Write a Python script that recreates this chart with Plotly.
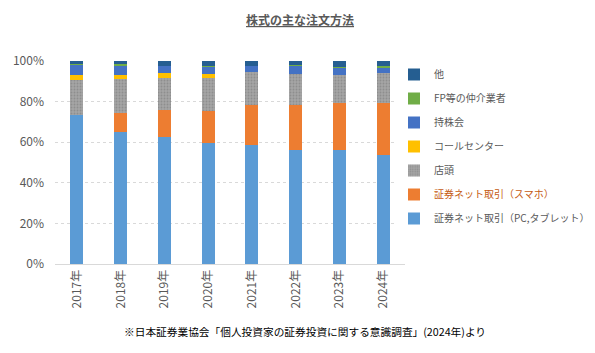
import plotly.graph_objects as go

years = ["2017年", "2018年", "2019年", "2020年", "2021年", "2022年", "2023年", "2024年"]

net_pc = [73.5, 65.2, 62.5, 59.6, 58.5, 56.2, 56.2, 53.6]
net_sp = [0.0, 9.3, 13.4, 15.9, 19.6, 22.2, 23.2, 25.8]
tento = [17.2, 16.7, 15.8, 16.2, 16.6, 15.3, 13.8, 14.8]
call_center = [2.5, 2.0, 2.5, 2.0, 0.0, 0.0, 0.0, 0.0]
mochikabu = [5.0, 4.6, 3.5, 3.5, 3.0, 4.1, 3.5, 2.5]
fp = [0.5, 0.5, 0.0, 0.5, 0.0, 0.4, 0.5, 1.0]
other = [1.3, 1.7, 2.3, 2.3, 2.3, 1.8, 2.8, 2.3]

y_ticks = [0, 20, 40, 60, 80, 100]
y_tick_labels = ["0%", "20%", "40%", "60%", "80%", "100%"]

series = [
    ("証券ネット取引（PC,タブレット）", net_pc, "#5B9BD5"),
    ("<span style='color:#C55A11'>証券ネット取引（スマホ）</span>", net_sp, "#ED7D31"),
    ("店頭", tento, "#A5A5A5"),
    ("コールセンター", call_center, "#FFC000"),
    ("持株会", mochikabu, "#4472C4"),
    ("FP等の仲介業者", fp, "#70AD47"),
    ("他", other, "#255E91"),
]

font = "Noto Sans CJK JP, sans-serif"

fig = go.Figure()
n = len(series)
for i, (name, vals, col) in enumerate(series):
    marker = dict(color=col, line=dict(width=0))
    if name == "店頭":
        marker["pattern"] = dict(shape=".", fgcolor="#8E8E8E", bgcolor=col,
                                 size=3, solidity=0.3, fillmode="replace")
    fig.add_trace(go.Bar(
        x=years, y=vals, name=name, marker=marker,
        legendgroup=str(i), legendrank=n - i,
    ))

fig.update_layout(
    barmode="stack",
    bargap=0.7,
    width=595, height=353,
    margin=dict(l=55, r=190, t=61, b=89, autoexpand=False),
    paper_bgcolor="white", plot_bgcolor="white",
    font=dict(family=font, size=12, color="#595959"),
    showlegend=True,
    legend=dict(
        x=(394 - 55) / 350, y=(264 - 60) / 203, xanchor="left", yanchor="top",
        traceorder="grouped", tracegroupgap=5,
        font=dict(size=10, color="#595959"),
        itemwidth=30,
    ),
    annotations=[
        dict(text="<b><u>株式の主な注文方法</u></b>", xref="paper", yref="paper",
             x=(300 - 55) / 350, y=(264 - 20) / 203, xanchor="center", yanchor="middle",
             showarrow=False, font=dict(size=12, color="#595959", family=font)),
        dict(text="※日本証券業協会「個人投資家の証券投資に関する意識調査」(2024年)より",
             xref="paper", yref="paper",
             x=(305 - 55) / 350, y=(264 - 331) / 203, xanchor="center", yanchor="middle",
             showarrow=False, font=dict(size=10.7, color="#000000", family=font)),
    ],
)
fig.update_yaxes(
    range=[0, 100], tickvals=y_ticks, ticktext=y_tick_labels,
    showgrid=True, gridcolor="#D9D9D9", griddash="dot", gridwidth=1,
    zeroline=False, showline=False, ticks="", ticklabelstandoff=10,
    tickfont=dict(size=12, color="#595959"),
)
fig.update_xaxes(
    tickangle=-90, showline=True, linecolor="#D9D9D9", linewidth=1,
    ticks="", tickfont=dict(size=12, color="#595959"),
)

fig.write_html("out.html")
